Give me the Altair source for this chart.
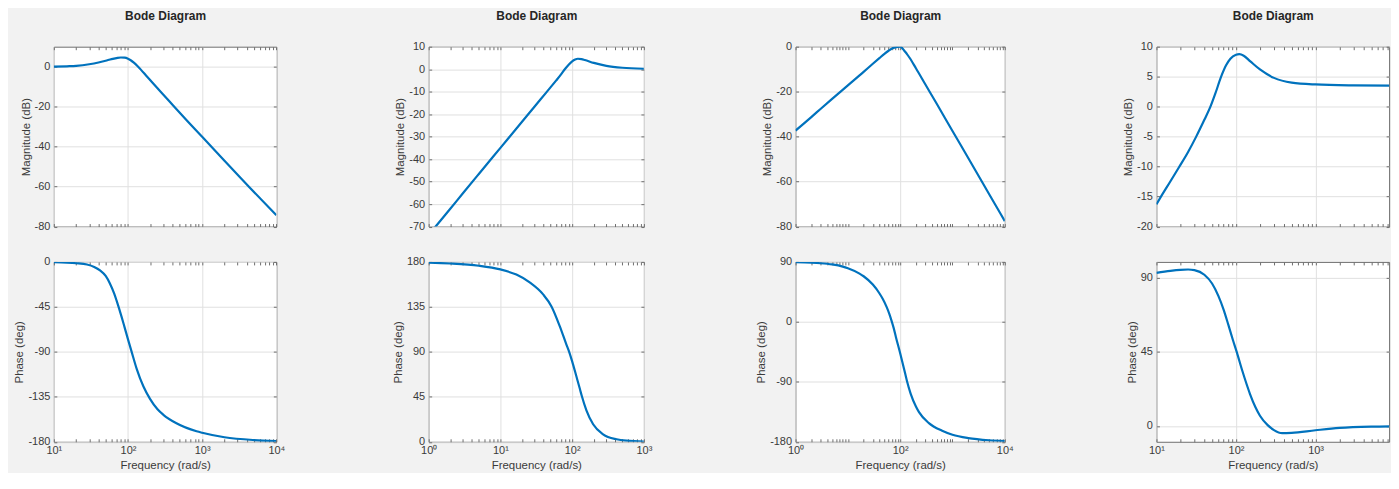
import altair as alt
import pandas as pd

# ---------------- data ----------------
# Panel 1
p1_mag_f = [10, 15, 20, 30, 40, 50, 60, 70, 80, 90, 100, 110, 120, 135, 150, 175, 200, 250, 300, 406, 600, 1000, 2000, 4300, 10000]
p1_mag_db = [0.0, 0.2, 0.4, 1.2, 2.1, 3.0, 3.8, 4.3, 4.6, 4.5, 4.0, 3.1, 2.0, 0.2, -1.6, -4.4, -6.8, -10.8, -14.0, -19.4, -26.3, -35.1, -47.1, -60.2, -74.3]
p1_ph_f = [10, 15, 20, 28, 35, 42, 50, 57, 65, 70, 82, 90, 100, 112, 131, 161, 198, 250, 300, 450, 840, 1000, 2000, 5000, 10000]
p1_ph_deg = [-0.3, -0.7, -1.3, -2.6, -5.0, -8.5, -14.0, -21.5, -31.5, -38.5, -55.0, -65.5, -77.5, -90.0, -107.0, -124.5, -137.0, -147.5, -153.0, -161.5, -169.5, -171.0, -175.5, -178.3, -179.3]

# Panel 2
p2_mag_f = [1, 1.25, 2, 3, 5, 10, 20, 30, 44, 60, 70, 80, 90, 100, 110, 120, 135, 150, 200, 300, 500, 1000]
p2_mag_db = [-73.8, -70.0, -62.1, -55.2, -46.6, -35.0, -23.4, -16.6, -10.2, -5.0, -2.3, 0.2, 2.1, 3.5, 4.3, 4.65, 4.5, 4.1, 2.8, 1.5, 0.65, 0.2]
p2_ph_f = [1, 2, 5, 10, 16.7, 25.6, 39.4, 51.5, 67.3, 83.4, 90.8, 100, 115, 128, 136, 158, 196, 270, 416, 574, 1000]
p2_ph_deg = [179.2, 178.4, 176.2, 172.5, 167.3, 159.5, 147.5, 135.5, 115.5, 97.0, 90.0, 80.5, 65.0, 53.0, 46.0, 31.5, 17.5, 7.5, 2.5, 1.1, 0.3]

# Panel 3
p3_mag_f = [1, 2, 3, 5, 10, 20, 30, 40, 50, 60, 70, 80, 90, 100, 105, 110, 120, 135, 150, 200, 300, 500, 1000, 2000, 5000, 10000]
p3_mag_db = [-37.3, -31.3, -27.7, -23.2, -17.2, -11.2, -7.6, -5.1, -3.2, -1.8, -0.8, -0.3, -0.05, 0.0, -0.2, -0.7, -1.8, -3.3, -4.8, -9.6, -16.6, -25.4, -37.5, -49.5, -65.5, -77.6]
p3_ph_f = [1, 2, 3, 5, 8, 10, 16.7, 20, 30, 40, 46, 55, 62, 68.5, 75, 83, 100, 119, 134, 159, 200, 229, 354, 634, 1000, 2000, 5000, 10000]
p3_ph_deg = [89.5, 88.8, 88.0, 86.2, 83.0, 80.5, 72.5, 68.5, 56.0, 43.0, 35.0, 22.5, 12.0, 1.5, -9.0, -23.0, -47.0, -71.0, -88.0, -108.0, -127.0, -135.5, -152.0, -163.5, -169.5, -174.5, -177.7, -178.8]

# Panel 4
p4_mag_f = [10, 11.3, 15, 19.2, 25, 31.6, 40, 47.7, 55, 65, 75, 85, 100, 110, 125, 150, 200, 300, 500, 1000, 3000, 10000]
p4_mag_db = [-16.3, -15.1, -12.45, -10.1, -7.55, -5.0, -2.2, 0.0, 2.2, 5.0, 6.9, 8.0, 8.65, 8.75, 8.5, 7.6, 6.2, 4.8, 4.0, 3.7, 3.55, 3.5]
p4_ph_f = [10, 15, 20, 25, 30, 40, 50, 60, 70, 80, 91, 102, 120, 150, 175, 200, 250, 300, 380, 500, 1000, 2000, 5000, 10000]
p4_ph_deg = [93.0, 94.2, 94.8, 95.0, 94.6, 91.8, 86.5, 79.0, 70.5, 61.5, 52.5, 45.0, 33.5, 19.4, 11.5, 6.2, 0.5, -2.5, -4.4, -4.2, -2.6, -1.2, -0.4, -0.2]

# axis settings
p1_xdom, p1_grid = [10, 10000], [10, 100, 1000, 10000]
p2_xdom, p2_grid = [1, 1000], [1, 10, 100, 1000]
p3_xdom, p3_grid = [1, 10000], [1, 100, 10000]
p4_xdom, p4_grid = [10, 8400], [10, 100, 1000]   # right part of panel 4 is cut off by the window

p1_mag_ydom, p1_mag_ticks = [-80, 10], [-80, -60, -40, -20, 0]
p1_ph_ydom, p1_ph_ticks = [-180, 0], [-180, -135, -90, -45, 0]
p2_mag_ydom, p2_mag_ticks = [-70, 10], [-70, -60, -50, -40, -30, -20, -10, 0, 10]
p2_ph_ydom, p2_ph_ticks = [0, 180], [0, 45, 90, 135, 180]
p3_mag_ydom, p3_mag_ticks = [-80, 0], [-80, -60, -40, -20, 0]
p3_ph_ydom, p3_ph_ticks = [-180, 90], [-180, -90, 0, 90]
p4_mag_ydom, p4_mag_ticks = [-20, 10], [-20, -15, -10, -5, 0, 5, 10]
p4_ph_ydom, p4_ph_ticks = [-9.6, 99.6], [0, 45, 90]

widths = [223.3, 216, 210, 233.5]
MAG_H = 180.5
PH_H = 180.5

LINE = "#0072BD"
FRAME = "#6e6e6e"
GRID = "#e0e0e0"
TEXT = "#3a3a3a"
FONT = "Liberation Sans"
SUP = "'10' + ['\u2070','\u00b9','\u00b2','\u00b3','\u2074'][round(log(datum.value) / LN10)]"
YLAB = "'' + datum.value"


def minor_ticks(dom):
    out = []
    d = 1
    while d <= dom[1]:
        for k in range(1, 10):
            if dom[0] <= k * d <= dom[1]:
                out.append(k * d)
        d *= 10
    return out


def panel(f, v, xdom, xgrid, ydom, yticks, w, h, ytitle, show_x, title=None):
    df = pd.DataFrame({"f": f, "v": v})
    xs = alt.Scale(type="log", domain=xdom, nice=False)
    ys = alt.Scale(domain=ydom, nice=False, zero=False)
    base = alt.Chart(df)
    xaxis_kw = dict(values=xgrid, grid=True, gridColor=GRID, gridWidth=1, ticks=False,
                    domain=False, labelFlush=False, labelOverlap=False)
    if show_x:
        xaxis_kw.update(labels=True, labelExpr=SUP, title="Frequency (rad/s)",
                        labelPadding=3, titlePadding=4, labelFontSize=11)
    else:
        xaxis_kw.update(labels=False, title=None)
    main = base.mark_line(color=LINE, strokeWidth=2.2, clip=True, interpolate="monotone").encode(
        x=alt.X("f:Q", scale=xs, axis=alt.Axis(**xaxis_kw)),
        y=alt.Y("v:Q", scale=ys, axis=alt.Axis(values=yticks, grid=True, gridColor=GRID, gridWidth=1,
                                               ticks=False, domain=False, title=ytitle, labelExpr=YLAB,
                                               labelFlush=False, labelOverlap=False)),
    )
    mt = minor_ticks(xdom)
    tick_kw = dict(labels=False, grid=False, domain=False, ticks=True, tickSize=3,
                   tickColor=FRAME, tickWidth=1, title=None, minExtent=0)
    ta = base.mark_line(opacity=0, clip=True).encode(
        x=alt.X("f:Q", scale=xs, axis=alt.Axis(orient="top", offset=-h, values=mt, **tick_kw)),
        y=alt.Y("v:Q", scale=ys, axis=alt.Axis(orient="right", offset=-w, values=yticks, **tick_kw)),
    )
    tb = base.mark_line(opacity=0, clip=True).encode(
        x=alt.X("f:Q", scale=xs, axis=alt.Axis(orient="bottom", offset=-h, values=mt, **tick_kw)),
        y=alt.Y("v:Q", scale=ys, axis=alt.Axis(orient="left", offset=-w, values=yticks, **tick_kw)),
    )
    layers = [main, ta, tb]
    if title:
        tt = base.mark_line(opacity=0, clip=True).encode(
            x=alt.X("f:Q", scale=xs, axis=alt.Axis(orient="top", title=title, labels=False, ticks=False,
                                                   domain=False, grid=False, minExtent=0, maxExtent=0,
                                                   titleFontSize=12, titleFontWeight="bold",
                                                   titleColor="#262626", titlePadding=24)),
            y=alt.Y("v:Q", scale=ys, axis=None),
        )
        layers.append(tt)
    return alt.layer(*layers).resolve_scale(x="independent", y="independent").properties(width=w, height=h)


top = [
    panel(p1_mag_f, p1_mag_db, p1_xdom, p1_grid, p1_mag_ydom, p1_mag_ticks, widths[0], MAG_H, "Magnitude (dB)", False, "Bode Diagram"),
    panel(p2_mag_f, p2_mag_db, p2_xdom, p2_grid, p2_mag_ydom, p2_mag_ticks, widths[1], MAG_H, "Magnitude (dB)", False, "Bode Diagram"),
    panel(p3_mag_f, p3_mag_db, p3_xdom, p3_grid, p3_mag_ydom, p3_mag_ticks, widths[2], MAG_H, "Magnitude (dB)", False, "Bode Diagram"),
    panel(p4_mag_f, p4_mag_db, p4_xdom, p4_grid, p4_mag_ydom, p4_mag_ticks, widths[3], MAG_H, "Magnitude (dB)", False, "Bode Diagram"),
]
bottom = [
    panel(p1_ph_f, p1_ph_deg, p1_xdom, p1_grid, p1_ph_ydom, p1_ph_ticks, widths[0], PH_H, "Phase (deg)", True),
    panel(p2_ph_f, p2_ph_deg, p2_xdom, p2_grid, p2_ph_ydom, p2_ph_ticks, widths[1], PH_H, "Phase (deg)", True),
    panel(p3_ph_f, p3_ph_deg, p3_xdom, p3_grid, p3_ph_ydom, p3_ph_ticks, widths[2], PH_H, "Phase (deg)", True),
    panel(p4_ph_f, p4_ph_deg, p4_xdom, p4_grid, p4_ph_ydom, p4_ph_ticks, widths[3], PH_H, "Phase (deg)", True),
]

chart = alt.concat(
    *(top + bottom), columns=4, spacing={"row": 35, "column": 152.2}, bounds="flush", align="each"
).properties(
    background="#f2f2f2",
    padding={"left": 5, "top": 0, "right": 0, "bottom": 0},
).configure_view(
    stroke=FRAME, strokeWidth=1, fill="white"
).configure_axis(
    labelFont=FONT, titleFont=FONT, labelFontSize=11, titleFontSize=11.5,
    labelColor=TEXT, titleColor=TEXT, titleFontWeight="normal",
    labelPadding=4, titlePadding=3,
)

chart.save("out.html", embed_options={"renderer": "svg", "actions": False})
